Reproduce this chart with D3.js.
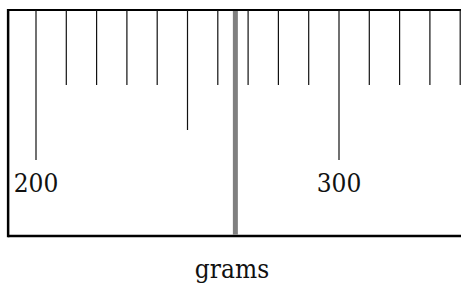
<!DOCTYPE html>
<html><head><meta charset="utf-8">
<script src="https://cdn.jsdelivr.net/npm/d3@7"></script>
<style>html,body{margin:0;padding:0;background:#fff;overflow:hidden}
text{font-family:"DejaVu Serif Condensed","DejaVu Serif",serif;font-stretch:condensed;}</style>
</head><body>
<svg id="c" width="461" height="287"></svg>
<script>
const majorTicks = [200, 300];
const mediumTicks = [250];
const minorTicks = [210, 220, 230, 240, 260, 270, 280, 290, 310, 320, 330, 340];
const tickLabels = ["200", "300"];
const needleValue = 265.8;
const domainExtent = [190.8, 345];
const axisTitle = "grams";

(function () {
const svg = d3.select("#c");
const x = d3.scaleLinear().domain([200, 300]).range([36, 339]);
const yTop = 10, yBottom = 236;

// frame
svg.append("line").attr("x1", x(domainExtent[0])).attr("x2", x(domainExtent[1]))
  .attr("y1", yTop).attr("y2", yTop).attr("stroke", "#000").attr("stroke-width", 2);
svg.append("line").attr("x1", x(domainExtent[0])).attr("x2", x(domainExtent[1]))
  .attr("y1", yBottom).attr("y2", yBottom).attr("stroke", "#000").attr("stroke-width", 2.5);
svg.append("line").attr("x1", x(domainExtent[0])).attr("x2", x(domainExtent[0]))
  .attr("y1", yTop - 1).attr("y2", yBottom + 1.25).attr("stroke", "#000").attr("stroke-width", 2.5);

function ticks(vals, len) {
  svg.append("g").selectAll("line").data(vals).join("line")
    .attr("x1", d => x(d)).attr("x2", d => x(d))
    .attr("y1", yTop).attr("y2", yTop + len)
    .attr("stroke", "#111").attr("stroke-width", 1.2);
}
ticks(minorTicks, 75);
ticks(mediumTicks, 120);
ticks(majorTicks, 150);

svg.append("g").selectAll("text").data(majorTicks).join("text")
  .attr("x", d => x(d)).attr("y", 192)
  .attr("text-anchor", "middle")
  .attr("font-size", 26)
  .attr("fill", "#111")
  .text((d, i) => tickLabels[i]);

// needle
svg.append("line").attr("x1", x(needleValue)).attr("x2", x(needleValue))
  .attr("y1", yTop + 1).attr("y2", yBottom - 1.25)
  .attr("stroke", "#808080").attr("stroke-width", 5);

svg.append("text").attr("x", 232).attr("y", 278)
  .attr("text-anchor", "middle")
  .attr("font-size", 26)
  .attr("fill", "#111").text(axisTitle);
})();
</script>
</body></html>
